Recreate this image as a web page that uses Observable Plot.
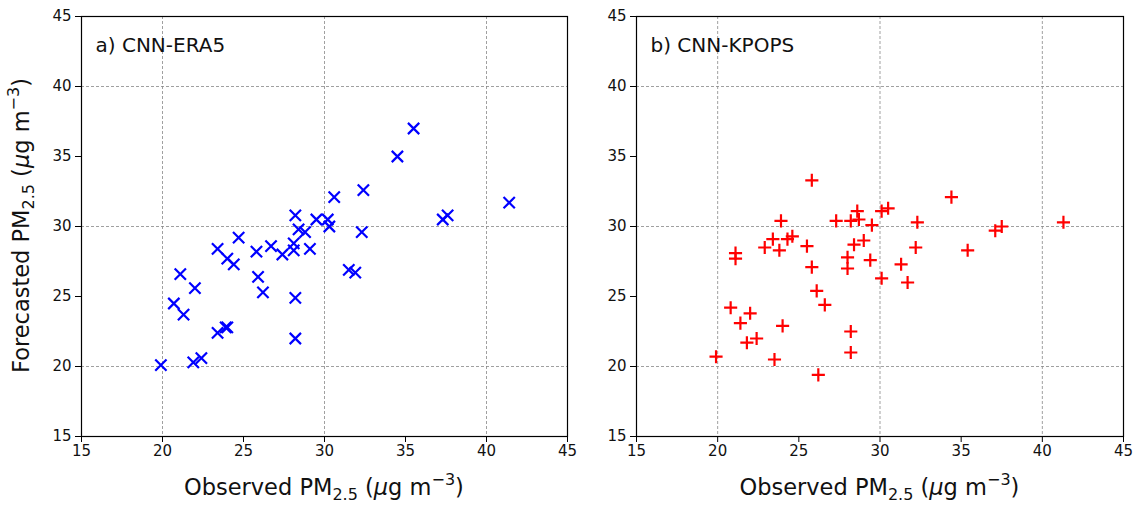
<!DOCTYPE html>
<html>
<head>
<meta charset="utf-8">
<script src="https://cdn.jsdelivr.net/npm/d3@7"></script>
<script src="https://cdn.jsdelivr.net/npm/@observablehq/plot@0.6"></script>
<style>
  body { margin: 0; background: #fff; font-family: "DejaVu Sans", sans-serif; }
  #fig { position: relative; width: 1137px; height: 508px; overflow: hidden; }
  .panel { position: absolute; top: 0; }
  .lbl { position: absolute; font-size: 22.5px; color: #111; white-space: nowrap; line-height: 1.2; }
  .lbl sub { font-size: 16px; vertical-align: -5px; line-height: 0; }
  .lbl sup { font-size: 16px; vertical-align: 10px; line-height: 0; }
</style>
</head>
<body>
<div id="fig"></div>
<script>
// ---- data ----
const ticks = [15, 20, 25, 30, 35, 40, 45];
const gridTicks = [20, 30, 40];

const era5Obs = [19.9, 21.9, 22.4, 23.4, 23.9, 24.0, 20.7, 21.3, 22.0, 21.1, 23.4, 24.0, 24.4, 24.7, 25.8, 25.9, 26.2, 26.7, 27.4, 28.1, 28.1, 28.2, 28.4, 28.8, 29.1, 28.2, 28.2, 29.5, 30.2, 30.3, 30.6, 32.4, 32.3, 31.5, 31.9, 34.5, 35.5, 37.3, 37.6, 41.4];
const era5Fc  = [20.1, 20.3, 20.6, 22.4, 22.8, 22.8, 24.5, 23.7, 25.6, 26.6, 28.4, 27.7, 27.3, 29.2, 28.2, 26.4, 25.3, 28.6, 28.0, 28.3, 28.8, 30.8, 29.8, 29.6, 28.4, 24.9, 22.0, 30.5, 30.5, 30.0, 32.1, 32.6, 29.6, 26.9, 26.7, 35.0, 37.0, 30.5, 30.8, 31.7];

const kpopsObs = [25.8, 23.9, 27.3, 28.2, 28.6, 28.7, 29.5, 30.1, 30.5, 23.4, 22.9, 23.8, 24.3, 24.6, 25.5, 25.8, 21.1, 21.1, 28.0, 28.0, 28.4, 29.0, 29.4, 30.1, 26.1, 26.6, 20.8, 22.0, 21.4, 24.0, 22.4, 21.8, 28.2, 28.2, 19.9, 23.5, 26.2, 32.3, 34.4, 32.2, 31.3, 31.7, 35.4, 37.1, 37.5, 41.3];
const kpopsFc  = [33.3, 30.4, 30.4, 30.4, 31.1, 30.5, 30.1, 31.1, 31.3, 29.1, 28.5, 28.3, 29.1, 29.3, 28.6, 27.1, 28.1, 27.7, 27.8, 27.0, 28.7, 29.0, 27.6, 26.3, 25.4, 24.4, 24.2, 23.8, 23.1, 22.9, 22.0, 21.7, 22.5, 21.0, 20.7, 20.5, 19.4, 30.3, 32.1, 28.5, 27.3, 26.0, 28.3, 29.7, 30.0, 30.3];

const panels = [
  {title: "a) CNN-ERA5", obs: era5Obs, fc: era5Fc, symbol: "times", color: "#0000ff", r: 5.2, left: 0, width: 590, mr: 23},
  {title: "b) CNN-KPOPS", obs: kpopsObs, fc: kpopsFc, symbol: "plus", color: "#ff0000", r: 4.3, left: 555, width: 582, mr: 14}
];

const fig = document.getElementById("fig");

for (const p of panels) {
  const data = p.obs.map((o, i) => ({obs: o, fc: p.fc[i]}));
  const chart = Plot.plot({
    width: p.width,
    height: 470,
    marginLeft: 81,
    marginRight: p.mr,
    marginTop: 16,
    marginBottom: 34,
    style: {fontFamily: "DejaVu Sans, sans-serif", background: "transparent", color: "#111"},
    x: {domain: [15, 45]},
    y: {domain: [15, 45]},
    marks: [
      Plot.gridX(gridTicks, {stroke: "#888", strokeOpacity: 1, strokeDasharray: "3,2", strokeWidth: 0.8}),
      Plot.gridY(gridTicks, {stroke: "#888", strokeOpacity: 1, strokeDasharray: "3,2", strokeWidth: 0.8}),
      Plot.axisX(ticks, {tickSize: 6, tickPadding: 3, fontSize: 15, label: null, stroke: "#000"}),
      Plot.axisY(ticks, {tickSize: 6, tickPadding: 4, fontSize: 15, label: null, stroke: "#000"}),
      Plot.dot(data, {x: "obs", y: "fc", symbol: p.symbol, stroke: p.color, strokeWidth: 2.2, r: p.r}),
      Plot.frame({stroke: "#000", strokeWidth: 1.2}),
      Plot.text([p.title], {frameAnchor: "top-left", dx: 14, dy: 21, fontSize: 20, fill: "#111"})
    ]
  });
  chart.classList.add("panel");
  chart.style.left = p.left + "px";
  fig.appendChild(chart);

  // x-axis label
  const xl = document.createElement("div");
  xl.className = "lbl";
  xl.innerHTML = 'Observed PM<sub>2.5</sub> (<i>μ</i>g m<sup>−3</sup>)';
  fig.appendChild(xl);
  const cx = p.left + 81 + (p.width - 81 - p.mr) / 2;
  xl.style.left = (cx - xl.offsetWidth / 2) + "px";
  xl.style.top = (487 - xl.offsetHeight / 2) + "px";
}

// y-axis label (left panel only)
const yl = document.createElement("div");
yl.className = "lbl";
yl.innerHTML = 'Forecasted PM<sub>2.5</sub> (<i>μ</i>g m<sup>−3</sup>)';
fig.appendChild(yl);
yl.style.left = (21 - yl.offsetWidth / 2) + "px";
yl.style.top = (225 - yl.offsetHeight / 2) + "px";
yl.style.transform = "rotate(-90deg)";
</script>
</body>
</html>
